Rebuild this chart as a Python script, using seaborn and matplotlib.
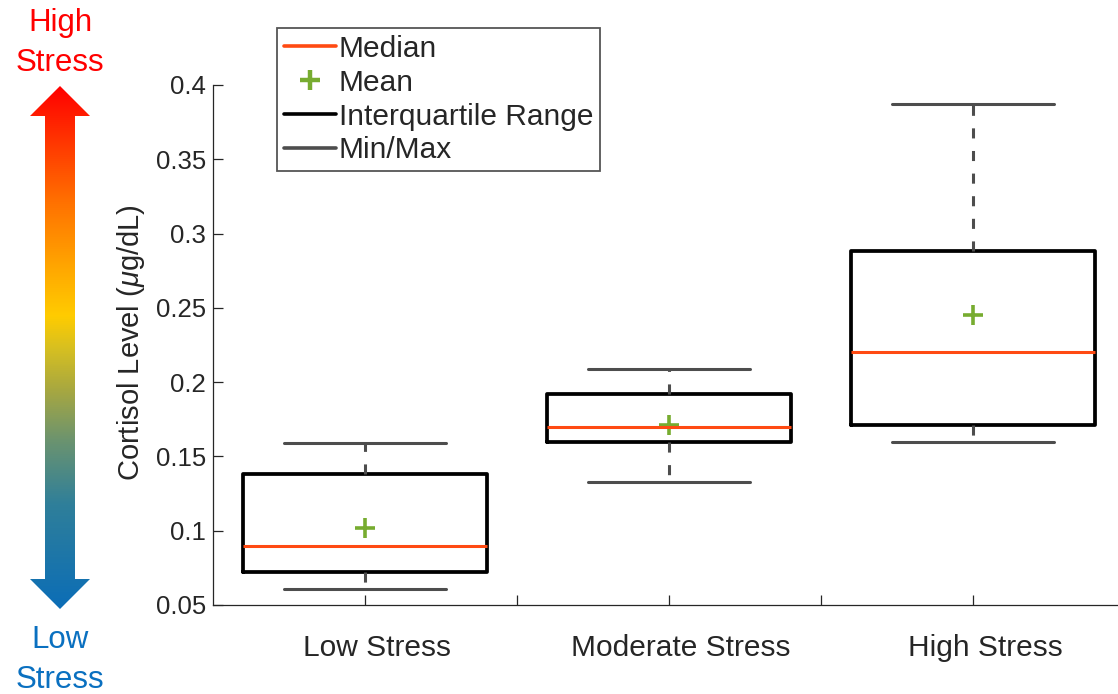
import numpy as np
import pandas as pd
import matplotlib
matplotlib.use("Agg")
import matplotlib.pyplot as plt
from matplotlib.colors import LinearSegmentedColormap
from matplotlib.lines import Line2D
from matplotlib.patches import Polygon
from matplotlib import font_manager
from matplotlib.transforms import ScaledTranslation
import seaborn as sns

# Cortisol summary statistics per stress group
groups = ["Low Stress", "Moderate Stress", "High Stress"]
minimum = [0.061, 0.133, 0.160]
lower_quartile = [0.072, 0.160, 0.171]
median = [0.090, 0.170, 0.220]
upper_quartile = [0.138, 0.192, 0.288]
maximum = [0.159, 0.209, 0.387]
mean = [0.102, 0.171, 0.245]

y_ticks = [0.05, 0.1, 0.15, 0.2, 0.25, 0.3, 0.35, 0.4]
y_tick_labels = ["0.05", "0.1", "0.15", "0.2", "0.25", "0.3", "0.35", "0.4"]
legend_labels = ["Median", "Mean", "Interquartile Range", "Min/Max"]

# Five-number summary per group: with whis=(0, 100) the box spans the
# 25th-75th percentiles and the whiskers reach min/max exactly.
rows = []
for g, a, b, c, d, e in zip(groups, minimum, lower_quartile, median,
                            upper_quartile, maximum):
    for v in (a, b, c, d, e):
        rows.append({"group": g, "value": v})
df = pd.DataFrame(rows)

sns.set_style("white")
available = {f.name for f in font_manager.fontManager.ttflist}
narrow = "Liberation Sans Narrow" if "Liberation Sans Narrow" in available else "Liberation Sans"
plt.rcParams["font.family"] = ["Liberation Sans", "DejaVu Sans"]
plt.rcParams["mathtext.fontset"] = "custom"
plt.rcParams["mathtext.it"] = "Liberation Sans:italic"
plt.rcParams["mathtext.rm"] = "Liberation Sans"

W, H = 1118, 694
fig = plt.figure(figsize=(W / 100, H / 100), dpi=100)
ax = fig.add_axes([213 / W, 1 - 605 / H, 912 / W, 520 / H])

MEDIAN_C = "#FF4A12"
MEAN_C = "#77AC30"
WHISK_C = "#4D4D4D"

sns.boxplot(
    data=df, x="group", y="value", order=groups, whis=(0, 100), width=0.8,
    fill=False, showfliers=False, ax=ax,
    boxprops=dict(color="black", linewidth=2.7),
    medianprops=dict(color=MEDIAN_C, linewidth=2.2),
    whiskerprops=dict(color=WHISK_C, linewidth=2.2, linestyle=(0, (3.3, 4.1))),
    capprops=dict(color=WHISK_C, linewidth=2.2),
    capwidths=0.53,
)

sns.pointplot(
    x=groups, y=mean, order=groups, errorbar=None, color=MEAN_C,
    marker="+", linestyle="none", markersize=15, markeredgewidth=2.6, ax=ax,
)

ax.set_xlim(-0.5, 2.5)
ax.set_ylim(0.05, 0.4)
ax.set_xticks([0, 0.5, 1, 1.5, 2])
ax.set_xticklabels([groups[0], "", groups[1], "", groups[2]],
                   fontfamily=narrow, fontsize=21.5)
ax.set_yticks(y_ticks)
ax.set_yticklabels(y_tick_labels, fontsize=18.5)
ax.set_xlabel("")
ax.set_ylabel(r"Cortisol Level ($\mu$g/dL)", fontfamily=narrow, fontsize=21,
              color="#262626")
ax.yaxis.set_label_coords(-0.072, 0.505)

ax.tick_params(axis="both", direction="in", length=7, width=0.9,
               colors="#262626", bottom=True, left=True, top=False,
               right=False)
ax.tick_params(axis="x", pad=21)
ax.tick_params(axis="y", pad=5)
for side in ("top", "right"):
    ax.spines[side].set_visible(False)
for side in ("left", "bottom"):
    ax.spines[side].set_color("#262626")
    ax.spines[side].set_linewidth(0.9)

shift = ScaledTranslation(12 / 100, 0, fig.dpi_scale_trans)
for lbl in ax.get_xticklabels():
    lbl.set_transform(lbl.get_transform() + shift)

handles = [
    Line2D([], [], color=MEDIAN_C, lw=2.6),
    Line2D([], [], color=MEAN_C, marker="+", linestyle="none",
           markersize=15, markeredgewidth=3.2),
    Line2D([], [], color="black", lw=2.6),
    Line2D([], [], color=WHISK_C, lw=2.6),
]
leg = ax.legend(
    handles, legend_labels, loc="upper left",
    bbox_to_anchor=(277 / W, 1 - 28 / H), bbox_transform=fig.transFigure,
    borderaxespad=0, fontsize=21.5, handlelength=1.75, handletextpad=0.1,
    labelspacing=0.2, borderpad=0.22, fancybox=False, framealpha=1,
    edgecolor="#555555",
)
leg.get_frame().set_linewidth(1.3)

# Gradient stress arrow on the left, drawn in pixel coordinates
arr = fig.add_axes([0, 0, 1, 1], zorder=-1)
arr.set_xlim(0, W)
arr.set_ylim(H, 0)
arr.axis("off")
arr.patch.set_visible(False)

stops = [
    (0.00, "#0B6DB7"),
    (0.20, "#2F7F9A"),
    (0.32, "#6A9370"),
    (0.42, "#A8A840"),
    (0.50, "#D8C020"),
    (0.56, "#FFCC00"),
    (0.65, "#FFA800"),
    (0.78, "#FF7000"),
    (0.92, "#FF2800"),
    (1.00, "#FF0000"),
]
cmap = LinearSegmentedColormap.from_list("stress", stops)
gradient = np.linspace(0, 1, 512).reshape(-1, 1)
im = arr.imshow(gradient, cmap=cmap, origin="lower", aspect="auto",
                extent=(28, 92, 610, 85), interpolation="bilinear")
arrow_shape = Polygon(
    [(60, 86), (90, 116), (75, 116), (75, 579), (90, 579), (60, 609),
     (30, 579), (45, 579), (45, 116), (30, 116)],
    closed=True, fill=False, lw=0, transform=arr.transData,
)
arr.add_patch(arrow_shape)
im.set_clip_path(arrow_shape)

arr.text(60, 43, "High\nStress", ha="center", va="center", color="#FF0000",
         fontsize=22.5, linespacing=1.4)
arr.text(60, 660, "Low\nStress", ha="center", va="center", color="#0A70C0",
         fontsize=22.5, linespacing=1.4)

fig.savefig("out.png", dpi=100)
